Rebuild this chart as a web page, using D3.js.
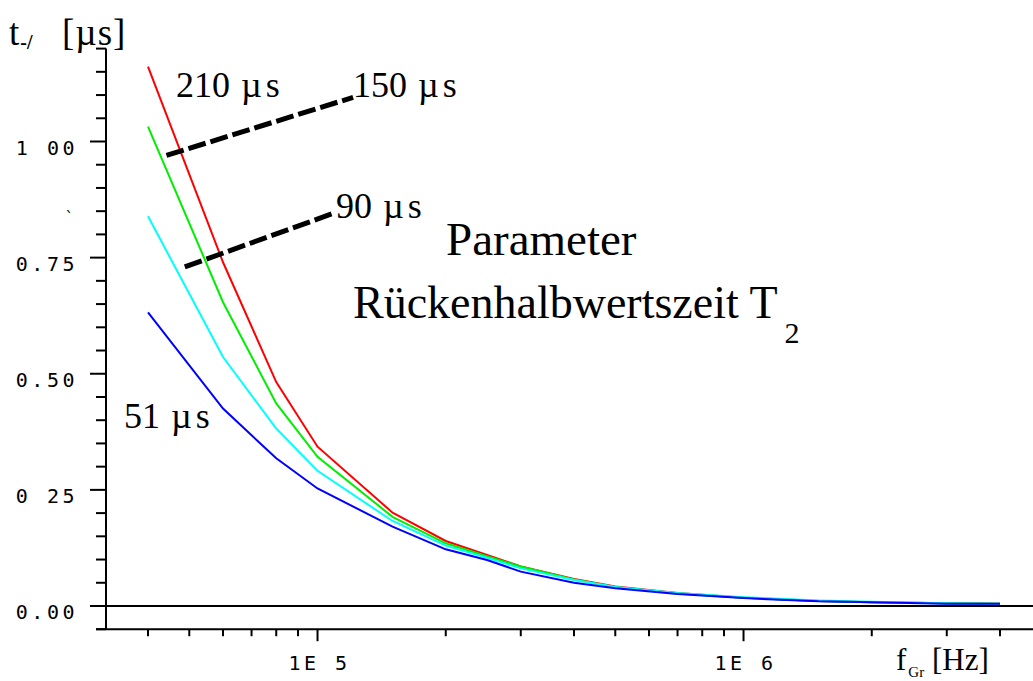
<!DOCTYPE html>
<html>
<head>
<meta charset="utf-8">
<script src="https://cdn.jsdelivr.net/npm/d3@7"></script>
<style>
  body { margin: 0; background: #fff; }
  svg { display: block; }
  .tick-label { font-family: "DejaVu Sans Mono", monospace; font-size: 20px; }
  .serif { font-family: "Liberation Serif", "Times New Roman", serif; fill: #000; }
</style>
</head>
<body>
<div id="chart"></div>
<script>
// frequencies in Hz (log axis)
const freqs = [4e4, 6e4, 8e4, 1e5, 1.5e5, 2e5, 2.5e5, 3e5, 4e5, 5e5, 7e5, 1e6, 1.5e6, 2e6, 3e6, 4e6];

// t in µs for each back half-value time T2
const t210 = [1.161, 0.740, 0.482, 0.343, 0.201, 0.140, 0.110, 0.085, 0.058, 0.042, 0.028, 0.018, 0.011, 0.008, 0.006, 0.005];
const t150 = [1.032, 0.654, 0.436, 0.321, 0.192, 0.135, 0.107, 0.085, 0.057, 0.041, 0.027, 0.018, 0.011, 0.008, 0.006, 0.005];
const t90  = [0.839, 0.536, 0.382, 0.291, 0.183, 0.130, 0.104, 0.081, 0.056, 0.041, 0.028, 0.019, 0.012, 0.009, 0.006, 0.005];
const t51  = [0.632, 0.425, 0.318, 0.253, 0.171, 0.122, 0.099, 0.074, 0.050, 0.038, 0.026, 0.017, 0.010, 0.008, 0.005, 0.005];

const seriesNums = ['210', '150', '90', '51'];
const seriesColors = ['#ff0000', '#00ee00', '#00ffff', '#0000ff'];

// y tick labels (as printed, dots partly missing)
const yMajorValues = [0, 0.25, 0.5, 0.75, 1.0];
const yMajorLabels = ['0.00', '0 25', '0.50', '0.75', '1 00'];

// x ticks
const xMajorValues = [1e5, 1e6];
const xMajorLabels = ['1E 5', '1E 6'];
const xMinorValues = [4e4, 5e4, 6e4, 7e4, 8e4, 9e4,
  2e5, 3e5, 4e5, 5e5, 6e5, 7e5, 8e5, 9e5, 2e6, 3e6, 4e6];

// dashed leader lines, [freq, t] endpoints
const leader1 = [[4.42e4, 0.970], [1.212e5, 1.095]];
const leader2 = [[4.88e4, 0.730], [1.094e5, 0.846]];

const W = 1033, H = 681;
const svg = d3.select('#chart').append('svg')
    .attr('width', W).attr('height', H);

const x = d3.scaleLog().domain([4e4, 4e6]).range([148, 1000]);
const y = d3.scaleLinear().domain([0, 1]).range([606, 141.5]);
const axisX = 106;
const yBottom = -0.05, yTop = 1.2;

// y axis
const yMinor = d3.range(-0.05, 1.2001, 0.05)
    .filter((v) => !yMajorValues.some((m) => Math.abs(m - v) < 1e-6));
svg.append('line')
    .attr('x1', axisX).attr('x2', axisX)
    .attr('y1', y(yBottom)).attr('y2', y(yTop))
    .attr('stroke', '#000').attr('stroke-width', 2);
svg.append('g').selectAll('line').data(yMinor).enter().append('line')
    .attr('x1', axisX - 10).attr('x2', axisX)
    .attr('y1', (d) => y(d)).attr('y2', (d) => y(d))
    .attr('stroke', '#000').attr('stroke-width', 2);
svg.append('g').selectAll('line').data(yMajorValues).enter().append('line')
    .attr('x1', axisX - 16).attr('x2', axisX)
    .attr('y1', (d) => y(d)).attr('y2', (d) => y(d))
    .attr('stroke', '#000').attr('stroke-width', 2);
svg.append('g').selectAll('text').data(yMajorValues).enter().append('text')
    .attr('class', 'tick-label')
    .attr('x', 78).attr('y', (d) => y(d) + 13)
    .attr('text-anchor', 'end')
    .style('letter-spacing', '3.5px')
    .text((d, i) => yMajorLabels[i]);

// stray mark left of axis
svg.append('text').attr('class', 'tick-label')
    .attr('x', 64).attr('y', y(0.875) + 8)
    .style('font-size', '15px')
    .text('\u02ce');

// zero line
svg.append('line')
    .attr('x1', axisX - 16).attr('x2', W)
    .attr('y1', y(0)).attr('y2', y(0))
    .attr('stroke', '#000').attr('stroke-width', 2);

// x axis
const xAxisY = y(yBottom);
svg.append('line')
    .attr('x1', axisX - 10).attr('x2', W)
    .attr('y1', xAxisY).attr('y2', xAxisY)
    .attr('stroke', '#000').attr('stroke-width', 2);
svg.append('g').selectAll('line').data(xMinorValues).enter().append('line')
    .attr('x1', (d) => x(d)).attr('x2', (d) => x(d))
    .attr('y1', xAxisY).attr('y2', xAxisY + 7)
    .attr('stroke', '#000').attr('stroke-width', 2);
svg.append('g').selectAll('line').data(xMajorValues).enter().append('line')
    .attr('x1', (d) => x(d)).attr('x2', (d) => x(d))
    .attr('y1', xAxisY).attr('y2', xAxisY + 12)
    .attr('stroke', '#000').attr('stroke-width', 2);
svg.append('g').selectAll('text').data(xMajorValues).enter().append('text')
    .attr('class', 'tick-label')
    .attr('x', (d) => x(d) + 2).attr('y', 670)
    .attr('text-anchor', 'middle')
    .style('letter-spacing', '3.5px')
    .text((d, i) => xMajorLabels[i]);

// curves
const allSeries = [t210, t150, t90, t51];
const line = d3.line()
    .x((d) => x(d[0]))
    .y((d) => y(d[1]));
svg.append('g').selectAll('path')
    .data(allSeries).enter()
    .append('path')
    .attr('fill', 'none')
    .attr('stroke', (d, i) => seriesColors[i])
    .attr('stroke-width', 2)
    .attr('d', (vals) => line(vals.map((v, i) => [freqs[i], v])));

// dashed leaders
[leader1, leader2].forEach((pts) => {
  svg.append('path')
      .attr('d', line(pts))
      .attr('fill', 'none')
      .attr('stroke', '#000')
      .attr('stroke-width', 5)
      .attr('stroke-dasharray', '18,5');
});

// series labels
const labelPos = [[176, 97], [353, 97], [336, 218], [124, 428]];
const lbl = svg.append('g').selectAll('text').data(seriesNums).enter().append('text')
    .attr('class', 'serif')
    .attr('x', (d, i) => labelPos[i][0]).attr('y', (d, i) => labelPos[i][1])
    .style('font-size', '36px');
lbl.append('tspan').text((d) => d + ' ');
lbl.append('tspan').attr('dx', 2).style('letter-spacing', '4px').text('µs');

// parameter caption
svg.append('text').attr('class', 'serif')
    .attr('x', 446).attr('y', 255)
    .style('font-size', '47px')
    .text('Parameter');
const cap = svg.append('text').attr('class', 'serif')
    .attr('x', 353).attr('y', 318)
    .style('font-size', '46px');
cap.append('tspan').text('Rückenhalbwertszeit T');
cap.append('tspan').attr('dx', 7).attr('dy', 25).style('font-size', '30px').text('2');

// axis titles
const yt = svg.append('text').attr('class', 'serif')
    .attr('x', 9).attr('y', 45).style('font-size', '37px');
yt.append('tspan').text('t');
yt.append('tspan').attr('dy', 4).attr('dx', 1).style('font-size', '20px')
    .style('font-weight', 'bold').text('-/');
yt.append('tspan').attr('x', 62).attr('dy', -4)
    .style('letter-spacing', '1px').text('[µs]');

const xt = svg.append('text').attr('class', 'serif')
    .attr('x', 896).attr('y', 670).style('font-size', '31px');
xt.append('tspan').text('f');
xt.append('tspan').attr('dx', 2).attr('dy', 7).style('font-size', '15px').text('Gr');
xt.append('tspan').attr('x', 932).attr('dy', -7).text('[Hz]');
</script>
</body>
</html>
